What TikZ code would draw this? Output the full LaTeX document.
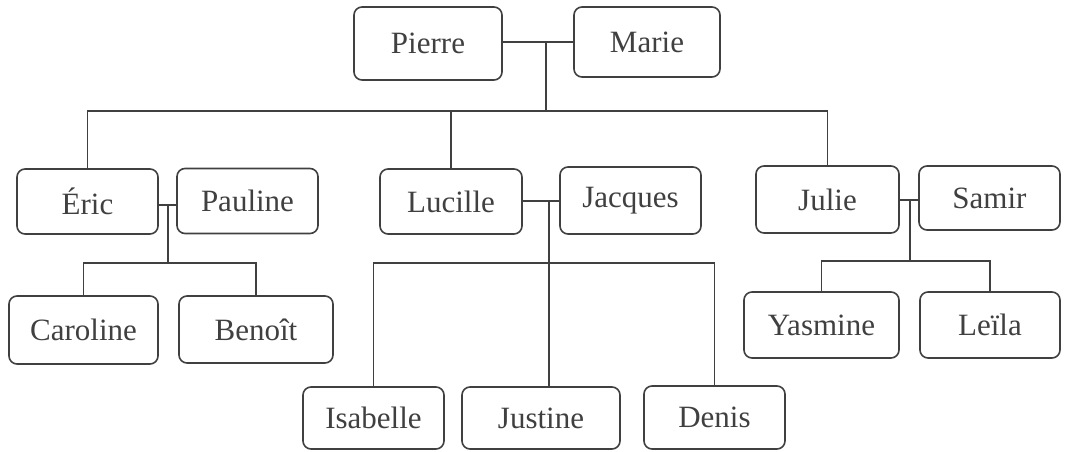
\documentclass[tikz,border=0pt]{standalone}
\usepackage{fontspec}
\setmainfont{Liberation Serif}

\begin{document}
\begin{tikzpicture}[x=1pt,y=-1pt,
    person/.style={draw=black!75, line width=1.6pt, rounded corners=8pt,
      minimum width=141pt, minimum height=65pt, inner sep=0pt,
      text=black!75, font=\fontsize{31}{37}\selectfont},
    link/.style={draw=black!75, line width=1.6pt}]
  \useasboundingbox (0,0) rectangle (1077,451);

  \node[person, minimum width=148pt, minimum height=73pt] (pierre) at (428,43.5) {Pierre};
  \node[person, minimum width=146pt, minimum height=70pt] (marie) at (647,42) {Marie};

  \node[person] (eric) at (87.5,201.5) {Éric};
  \node[person] (pauline) at (247.5,201) {Pauline};
  \node[person, minimum width=142pt] (lucille) at (451,201.5) {Lucille};
  \node[person, minimum height=67pt] (jacques) at (630.5,200.5) {Jacques};
  \node[person, minimum width=143pt, minimum height=67pt] (julie) at (827.5,199.5) {Julie};
  \node[person, minimum height=64pt] (samir) at (989.5,198) {Samir};

  \node[person, minimum width=149pt, minimum height=68pt] (caroline) at (83.5,330) {Caroline};
  \node[person, minimum width=154pt, minimum height=67pt] (benoit) at (256,329.5) {Benoît};
  \node[person, minimum height=62pt] (isabelle) at (373.5,418) {Isabelle};
  \node[person, minimum width=158pt, minimum height=62pt] (justine) at (541,418) {Justine};
  \node[person, minimum height=63pt] (denis) at (714.5,417.5) {Denis};
  \node[person, minimum width=155pt, minimum height=66pt] (yasmine) at (821.5,325) {Yasmine};
  \node[person, minimum width=140pt, minimum height=66pt] (leila) at (990,325) {Leïla};

  % couples
  \coordinate (pm) at (546,42);
  \coordinate (pmk) at (546,111);
  \coordinate (ep) at (168,205);
  \coordinate (epk) at (168,263);
  \coordinate (lj) at (549,201);
  \coordinate (ljk) at (549,263);
  \coordinate (js) at (910,200);
  \coordinate (jsk) at (910,261);

  \path[link] (pierre.east |- pm) -- (marie.west |- pm);
  \path[link] (pm) -- (pmk);
  \path[link] (eric.north) |- (pmk) -| (julie.north);
  \path[link] (pmk -| lucille.north) -- (lucille.north);

  \path[link] (eric.east |- ep) -- (pauline.west |- ep);
  \path[link] (ep) -- (epk);
  \path[link] (caroline.north) |- (epk) -| (benoit.north);

  \path[link] (lucille.east |- lj) -- (jacques.west |- lj);
  \path[link] (lj) -- (lj |- justine.north);
  \path[link] (isabelle.north) |- (ljk) -| (denis.north);

  \path[link] (julie.east |- js) -- (samir.west |- js);
  \path[link] (js) -- (jsk);
  \path[link] (yasmine.north) |- (jsk) -| (leila.north);
\end{tikzpicture}
\end{document}
